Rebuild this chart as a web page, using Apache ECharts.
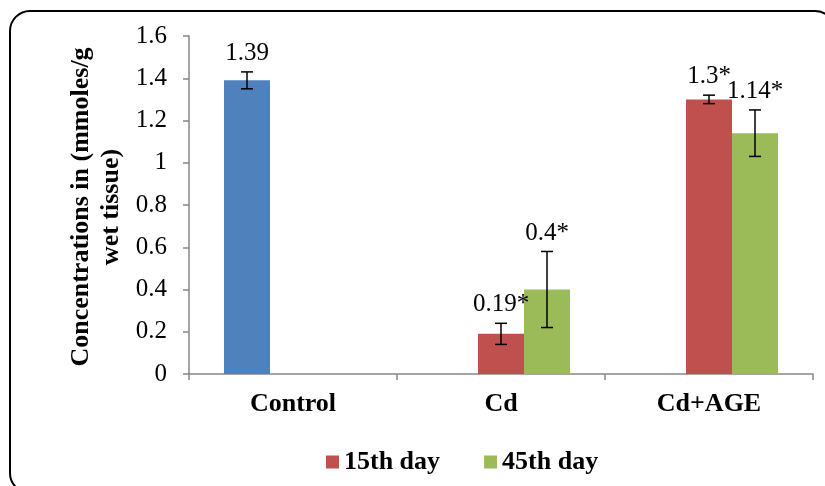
<!DOCTYPE html>
<html>
<head>
<meta charset="utf-8">
<script src="https://cdn.jsdelivr.net/npm/echarts@6/dist/echarts.min.js"></script>
<style>
  html, body { margin: 0; padding: 0; background: #fff; }
  #chart { width: 825px; height: 486px; }
</style>
</head>
<body>
<div id="chart"></div>
<script>
// ---- data ----
const categories = ['Control', 'Cd', 'Cd+AGE'];
const controlValues = [1.39, null, null];
const day15Values = [null, 0.19, 1.3];
const day45Values = [null, 0.4, 1.14];
const controlErr = [0.04, null, null];
const day15Err = [null, 0.05, 0.02];
const day45Err = [null, 0.18, 0.11];
const controlLabels = ['1.39', '', ''];
const day15Labels = ['', '0.19*', '1.3*'];
const day45Labels = ['', '0.4*', '1.14*'];
const yTicks = { min: 0, max: 1.6, interval: 0.2 };
const yTitleLines = ['Concentrations in (mmoles/g', 'wet tissue)'];

// ---- styles ----
const FONT = '"Liberation Serif", "Times New Roman", serif';
const BAR_W = 46;
const COLORS = { control: '#4F81BD', d15: '#C0504D', d45: '#9BBB59' };

function errData(values, errs, labels) {
  return values.map((v, i) => v == null ? null : [i, v, errs[i], labels[i]]);
}

function errSeries(values, errs, labels, slot) {
  return {
    type: 'custom',
    z: 10,
    silent: true,
    data: errData(values, errs, labels).filter(d => d !== null),
    encode: { x: 0, y: 1 },
    renderItem: function (params, api) {
      const cat = api.value(0);
      const val = api.value(1);
      const err = api.value(2);
      const top = api.coord([cat, val + err]);
      const bot = api.coord([cat, val - err]);
      const x = top[0] + slot * BAR_W;
      const cap = 6;
      const st = { stroke: '#000', lineWidth: 1.5 };
      return {
        type: 'group',
        children: [
          { type: 'line', shape: { x1: x, y1: top[1], x2: x, y2: bot[1] }, style: st },
          { type: 'line', shape: { x1: x - cap, y1: top[1], x2: x + cap, y2: top[1] }, style: st },
          { type: 'line', shape: { x1: x - cap, y1: bot[1], x2: x + cap, y2: bot[1] }, style: st },
          { type: 'text', style: { x: x, y: top[1] - 6, text: api.value(3), textAlign: 'center', textVerticalAlign: 'bottom', fill: '#000', font: '25px ' + FONT } }
        ]
      };
    }
  };
}

const chart = echarts.init(document.getElementById('chart'), null, { renderer: 'canvas' });

chart.setOption({
  animation: false,
  backgroundColor: '#fff',
  textStyle: { fontFamily: FONT },
  grid: { left: 189, right: 12, top: 36, bottom: 112, containLabel: false },
  legend: {
    data: ['15th day', '45th day'],
    left: 321,
    top: 444,
    icon: 'rect',
    itemWidth: 13,
    itemHeight: 13,
    itemGap: 44,
    textStyle: { fontFamily: FONT, fontSize: 26, fontWeight: 'bold', color: '#000' }
  },
  xAxis: {
    type: 'category',
    data: categories,
    axisLine: { lineStyle: { color: '#868686', width: 1.5 } },
    axisTick: { show: true, length: 6, lineStyle: { color: '#868686', width: 1.5 } },
    axisLabel: { margin: 17, fontFamily: FONT, fontSize: 26, fontWeight: 'bold', color: '#000' }
  },
  yAxis: {
    type: 'value',
    min: yTicks.min,
    max: yTicks.max,
    interval: yTicks.interval,
    splitLine: { show: false },
    axisLine: { show: true, lineStyle: { color: '#868686', width: 1.5 } },
    axisTick: { show: true, length: 6, lineStyle: { color: '#868686', width: 1.5 } },
    axisLabel: { margin: 22, fontFamily: FONT, fontSize: 25, color: '#000',
      formatter: v => String(Math.round(v * 10) / 10) }
  },
  series: [
    { name: 'Control', type: 'bar', data: controlValues, barWidth: BAR_W, barGap: '0%', itemStyle: { color: COLORS.control } },
    { name: '15th day', type: 'bar', data: day15Values, barWidth: BAR_W, barGap: '0%', itemStyle: { color: COLORS.d15 } },
    { name: '45th day', type: 'bar', data: day45Values, barWidth: BAR_W, barGap: '0%', itemStyle: { color: COLORS.d45 } },
    errSeries(controlValues, controlErr, controlLabels, -1),
    errSeries(day15Values, day15Err, day15Labels, 0),
    errSeries(day45Values, day45Err, day45Labels, 1)
  ],
  graphic: [
    { type: 'rect', shape: { x: 10, y: 11, width: 825, height: 482, r: 20 }, style: { fill: 'none', stroke: '#000', lineWidth: 2 }, silent: true },
    { type: 'text', x: 81, y: 207, rotation: Math.PI / 2,
      style: { text: yTitleLines[0], textAlign: 'center', textVerticalAlign: 'middle', fill: '#000', font: 'bold 26px ' + FONT } },
    { type: 'text', x: 111, y: 207, rotation: Math.PI / 2,
      style: { text: yTitleLines[1], textAlign: 'center', textVerticalAlign: 'middle', fill: '#000', font: 'bold 26px ' + FONT } }
  ]
});
</script>
</body>
</html>
